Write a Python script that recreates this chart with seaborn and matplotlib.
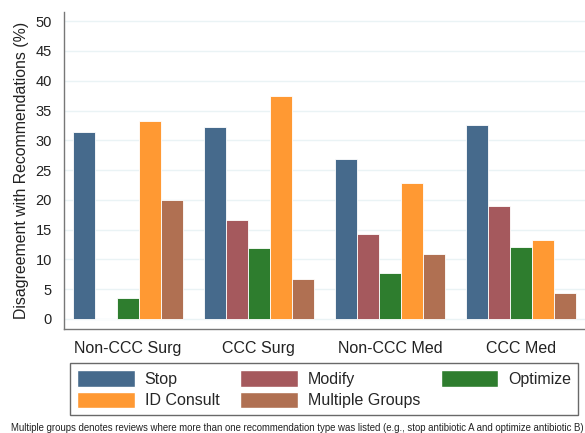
import pandas as pd
import matplotlib.pyplot as plt
import seaborn as sns
from matplotlib.patches import Patch

# Data
groups = ["Non-CCC Surg", "CCC Surg", "Non-CCC Med", "CCC Med"]
rec_types = ["Stop", "Modify", "Optimize", "ID Consult", "Multiple Groups"]
stop = [31.4, 32.3, 26.9, 32.6]
modify = [0.0, 16.6, 14.2, 18.9]
optimize = [3.6, 11.9, 7.7, 12.0]
id_consult = [33.3, 37.4, 22.9, 13.3]
multiple = [19.9, 6.7, 10.9, 4.3]
colors = ["#466a8c", "#a5595d", "#2e7d2e", "#ff9933", "#b07052"]

values = [stop, modify, optimize, id_consult, multiple]
rows = []
for rec, vals in zip(rec_types, values):
    for g, v in zip(groups, vals):
        rows.append({"group": g, "rec": rec, "pct": v})
df = pd.DataFrame(rows)

sns.set_style("white")
plt.rcParams['font.family'] = ['Liberation Sans', 'DejaVu Sans']

fig = plt.figure(figsize=(5.85, 4.33), dpi=100)
ax = fig.add_axes([0.109, 0.240, 0.891, 0.733])

sns.barplot(data=df, x="group", y="pct", hue="rec", order=groups,
            hue_order=rec_types, palette=colors, width=0.84,
            edgecolor="white", linewidth=0.6, saturation=1,
            errorbar=None, ax=ax, legend=False, zorder=3)

ax.set_xlim(-0.49, 3.49)
ax.set_ylim(-1.7, 51.6)
ax.set_yticks(range(0, 51, 5))
ax.yaxis.grid(True, color="#eaf3f5", linewidth=1, zorder=0)
ax.set_axisbelow(True)

for side in ["top", "right"]:
    ax.spines[side].set_visible(False)
for side in ["left", "bottom"]:
    ax.spines[side].set_color("#777777")
    ax.spines[side].set_linewidth(1)

ax.tick_params(axis="both", direction="out", length=5, width=1,
               color="#555555", labelcolor="#222222")
ax.tick_params(axis="x", labelsize=11.5)
ax.tick_params(axis="y", labelsize=10.5)
ax.set_xlabel("")
ax.set_ylabel("Disagreement with Recommendations (%)", fontsize=11.4,
              color="#222222", labelpad=5)

# legend: three columns, rows = (Stop, Modify, Optimize), (ID Consult, Multiple Groups)
order = [0, 3, 1, 4, 2]
handles = [Patch(facecolor=colors[i], edgecolor="white", label=rec_types[i]) for i in order]
leg = fig.legend(handles=handles, ncol=3, loc="upper left",
                 bbox_to_anchor=(70 / 585, 1 - 363 / 433),
                 fontsize=11.5, frameon=True, fancybox=False,
                 handlelength=3.6, handleheight=1.2, handletextpad=0.62,
                 borderpad=0.45, labelspacing=0.3, columnspacing=1.3,
                 borderaxespad=0)
leg.get_frame().set_edgecolor("#444444")
leg.get_frame().set_linewidth(1)

fig.text(11 / 585, 1 - 428 / 433, "Multiple groups denotes reviews where more than one recommendation "
         "type was listed (e.g., stop antibiotic A and optimize antibiotic B)",
         ha="left", va="center", fontsize=6.95, color="#222222")

fig.savefig("out.png", dpi=100)
